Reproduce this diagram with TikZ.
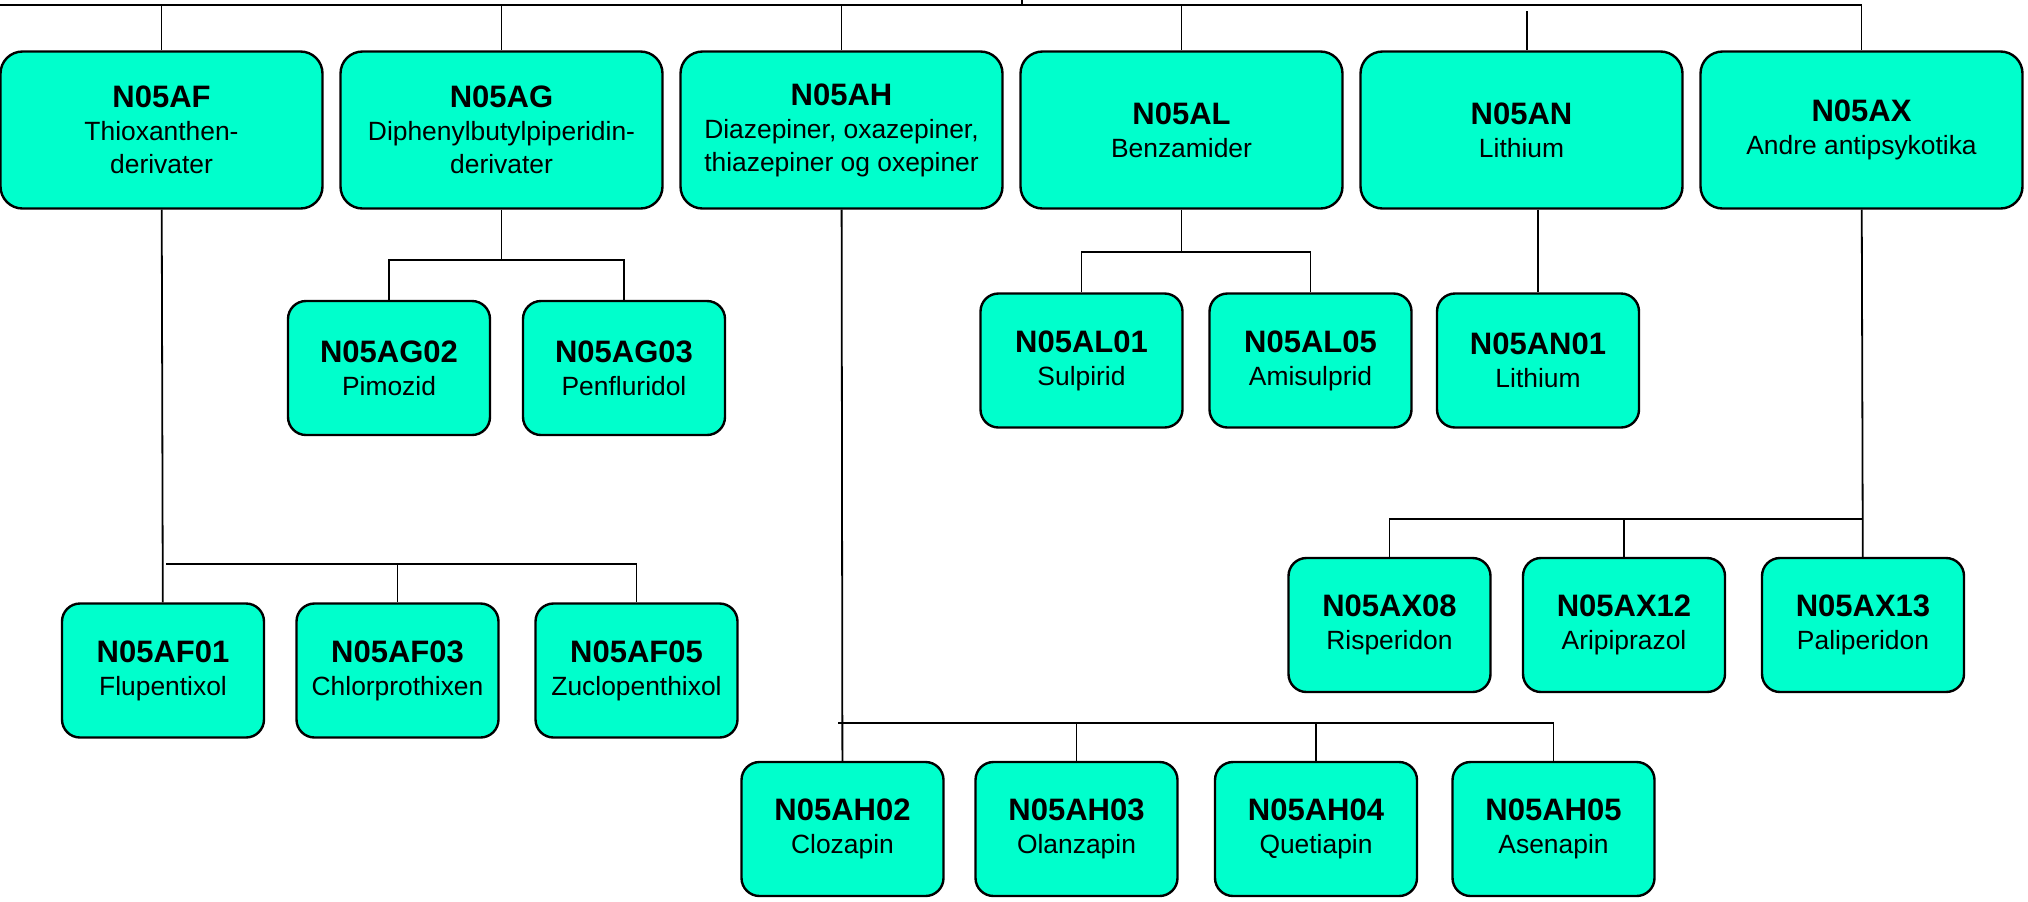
\documentclass[tikz,border=0pt]{standalone}
\usepackage{fontspec}
\setmainfont{Liberation Sans}
\usepackage{tikz}
\usetikzlibrary{positioning}
\definecolor{atcfill}{RGB}{0,255,204}
\newcommand{\atcbox}[2]{{\fontsize{15.5}{16.5}\selectfont\bfseries #1}\\#2}

\begin{document}
\begin{tikzpicture}[
  x=0.5pt, y=-0.5pt,
  node distance=7.8pt,
  group/.style={draw=black, line width=1.2pt, fill=atcfill, rounded corners=11pt, align=center, minimum width=161pt, minimum height=78.5pt, inner sep=2pt, font=\fontsize{13.2}{16.5}\selectfont},
  drug/.style={group, rounded corners=9pt, minimum width=101pt, minimum height=67pt},
  link/.style={line width=0.9pt, black}
]
\useasboundingbox (0,0) rectangle (2028,901);

\node[group] (af) at (161.5,130) {\atcbox{N05AF}{Thioxanthen-\\derivater}};
\node[group, right=of af] (ag) {\atcbox{N05AG}{Diphenylbutylpiperidin-\\derivater}};
\node[group, right=of ag] (ah) {\atcbox{N05AH}{Diazepiner, oxazepiner,\\thiazepiner og oxepiner}};
\node[group, right=of ah] (al) {\atcbox{N05AL}{Benzamider}};
\node[group, right=of al] (an) {\atcbox{N05AN}{Lithium}};
\node[group, right=of an] (ax) {\atcbox{N05AX}{Andre antipsykotika}};

\node[drug] (ag02) at (389,368) {\atcbox{N05AG02}{Pimozid}};
\node[drug] (ag03) at (624,368) {\atcbox{N05AG03}{Penfluridol}};
\node[drug] (al01) at (1081.5,360.5) {\atcbox{N05AL01}{Sulpirid}};
\node[drug] (al05) at (1310.5,360.5) {\atcbox{N05AL05}{Amisulprid}};
\node[drug] (an01) at (1538,360.5) {\atcbox{N05AN01}{Lithium}};
\node[drug] (ax08) at (1389.5,625) {\atcbox{N05AX08}{Risperidon}};
\node[drug] (ax12) at (1624,625) {\atcbox{N05AX12}{Aripiprazol}};
\node[drug] (ax13) at (1863,625) {\atcbox{N05AX13}{Paliperidon}};
\node[drug] (af01) at (163,670.5) {\atcbox{N05AF01}{Flupentixol}};
\node[drug] (af03) at (397.5,670.5) {\atcbox{N05AF03}{Chlorprothixen}};
\node[drug] (af05) at (636.5,670.5) {\atcbox{N05AF05}{Zuclopenthixol}};
\node[drug] (ah02) at (842.5,829) {\atcbox{N05AH02}{Clozapin}};
\node[drug] (ah03) at (1076.5,829) {\atcbox{N05AH03}{Olanzapin}};
\node[drug] (ah04) at (1316,829) {\atcbox{N05AH04}{Quetiapin}};
\node[drug] (ah05) at (1553.5,829) {\atcbox{N05AH05}{Asenapin}};

\coordinate (root) at (1022,0);
\coordinate (topbus) at (0,5);
\coordinate (antop) at (1527,11);
\coordinate (afbus) at (166,564);
\coordinate (agbus) at (ag |- 0,260);
\coordinate (ahbus) at (838,723);
\coordinate (albus) at (al |- 0,252);
\coordinate (axbus) at (ax |- 0,519);

\draw[link] (topbus) -| (ax);
\draw[link] (root) -- (root |- topbus);
\draw[link] (af |- topbus) -- (af);
\draw[link] (ag |- topbus) -- (ag);
\draw[link] (ah |- topbus) -- (ah);
\draw[link] (al |- topbus) -- (al);
\draw[link] (antop) -- (antop |- an.north);

\draw[link] (af) -- (af01);
\draw[link] (afbus) -| (af05);
\draw[link] (afbus -| af03) -- (af03);
\draw[link] (ag) -- (agbus);
\draw[link] (ag02) |- (agbus) -| (ag03);
\draw[link] (ah) -- (ah02);
\draw[link] (ahbus) -| (ah05);
\draw[link] (ahbus -| ah03) -- (ah03);
\draw[link] (ahbus -| ah04) -- (ah04);
\draw[link] (al) -- (albus);
\draw[link] (al01) |- (albus) -| (al05);
\draw[link] (an01 |- an.south) -- (an01);
\draw[link] (ax) -- (ax13);
\draw[link] (ax08) |- (axbus);
\draw[link] (ax12) -- (ax12 |- axbus);
\end{tikzpicture}
\end{document}
